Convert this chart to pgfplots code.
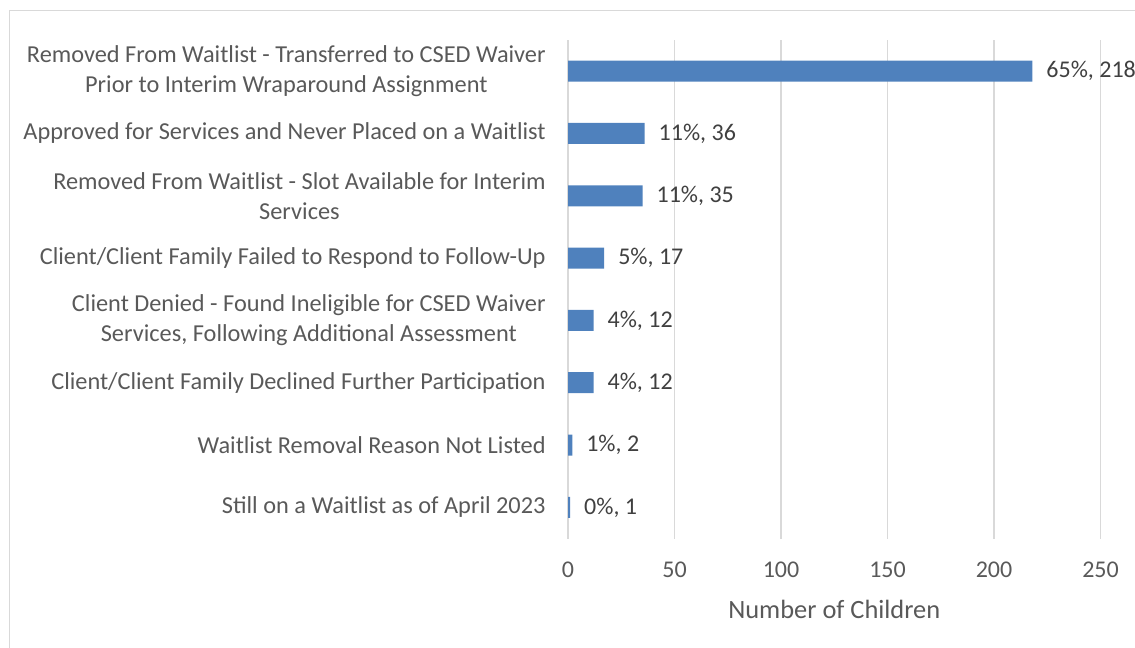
\documentclass[border=0pt]{standalone}
\usepackage{fontspec}
\setmainfont{Carlito}
\usepackage{pgfplots}
\pgfplotsset{compat=1.18}
\definecolor{barblue}{HTML}{4F81BD}
\definecolor{gridgray}{HTML}{D9D9D9}
\definecolor{tickgray}{HTML}{595959}
\definecolor{lblgray}{HTML}{404040}
\begin{document}
\begin{tikzpicture}
\useasboundingbox (0pt,0pt) rectangle (851.25pt,486pt);
\begin{scope}
\clip (0pt,0pt) rectangle (851.25pt,486pt);
\draw[gridgray, line width=1.1pt] (7.1pt,478.1pt) rectangle (880pt,-20pt);
\begin{axis}[
  at={(426pt,82.1pt)}, anchor=south west,
  scale only axis, width=399.4pt, height=373.9pt,
  xbar, bar width=15.75pt,
  xmin=0, xmax=250, ymin=-0.5, ymax=7.5,
  xtick={0,50,...,250},
  ytick={0,...,7},
  yticklabels={
    Still on a Waitlist as of April 2023,
    Waitlist Removal Reason Not Listed,
    Client/Client Family Declined Further Participation,
    {Client Denied - Found Ineligible for CSED Waiver\\Services, Following Additional Assessment},
    Client/Client Family Failed to Respond to Follow-Up,
    {Removed From Waitlist - Slot Available for Interim\\Services},
    Approved for Services and Never Placed on a Waitlist,
    {Removed From Waitlist - Transferred to CSED Waiver\\Prior to Interim Wraparound Assignment}},
  major tick length=0pt,
  axis line style={draw=none},
  xmajorgrids, grid style={gridgray, line width=1.1pt},
  /pgf/number format/assume math mode=true,
  tick label style={font=\fontsize{18}{22.5}\selectfont, text=tickgray},
  yticklabel style={align=center, xshift=-13.25pt, font=\fontsize{18.25}{22.5}\selectfont},
  xticklabel style={yshift=-14.3pt},
  xlabel={Number of Children},
  xlabel style={font=\fontsize{19.8}{24}\selectfont, text=tickgray, yshift=-10pt},
  point meta=explicit symbolic,
  nodes near coords,
  every node near coord/.append style={anchor=west, xshift=7pt, font=\fontsize{18}{22.5}\selectfont, text=lblgray},
  clip=false,
]
\addplot[fill=barblue, draw=none] coordinates {
  (218,7) [65\%, 218]
  (36,6) [11\%, 36]
  (35,5) [11\%, 35]
  (17,4) [5\%, 17]
  (12,3) [4\%, 12]
  (12,2) [4\%, 12]
  (2,1) [1\%, 2]
  (1,0) [0\%, 1]
};
\end{axis}
\end{scope}
\end{tikzpicture}
\end{document}
